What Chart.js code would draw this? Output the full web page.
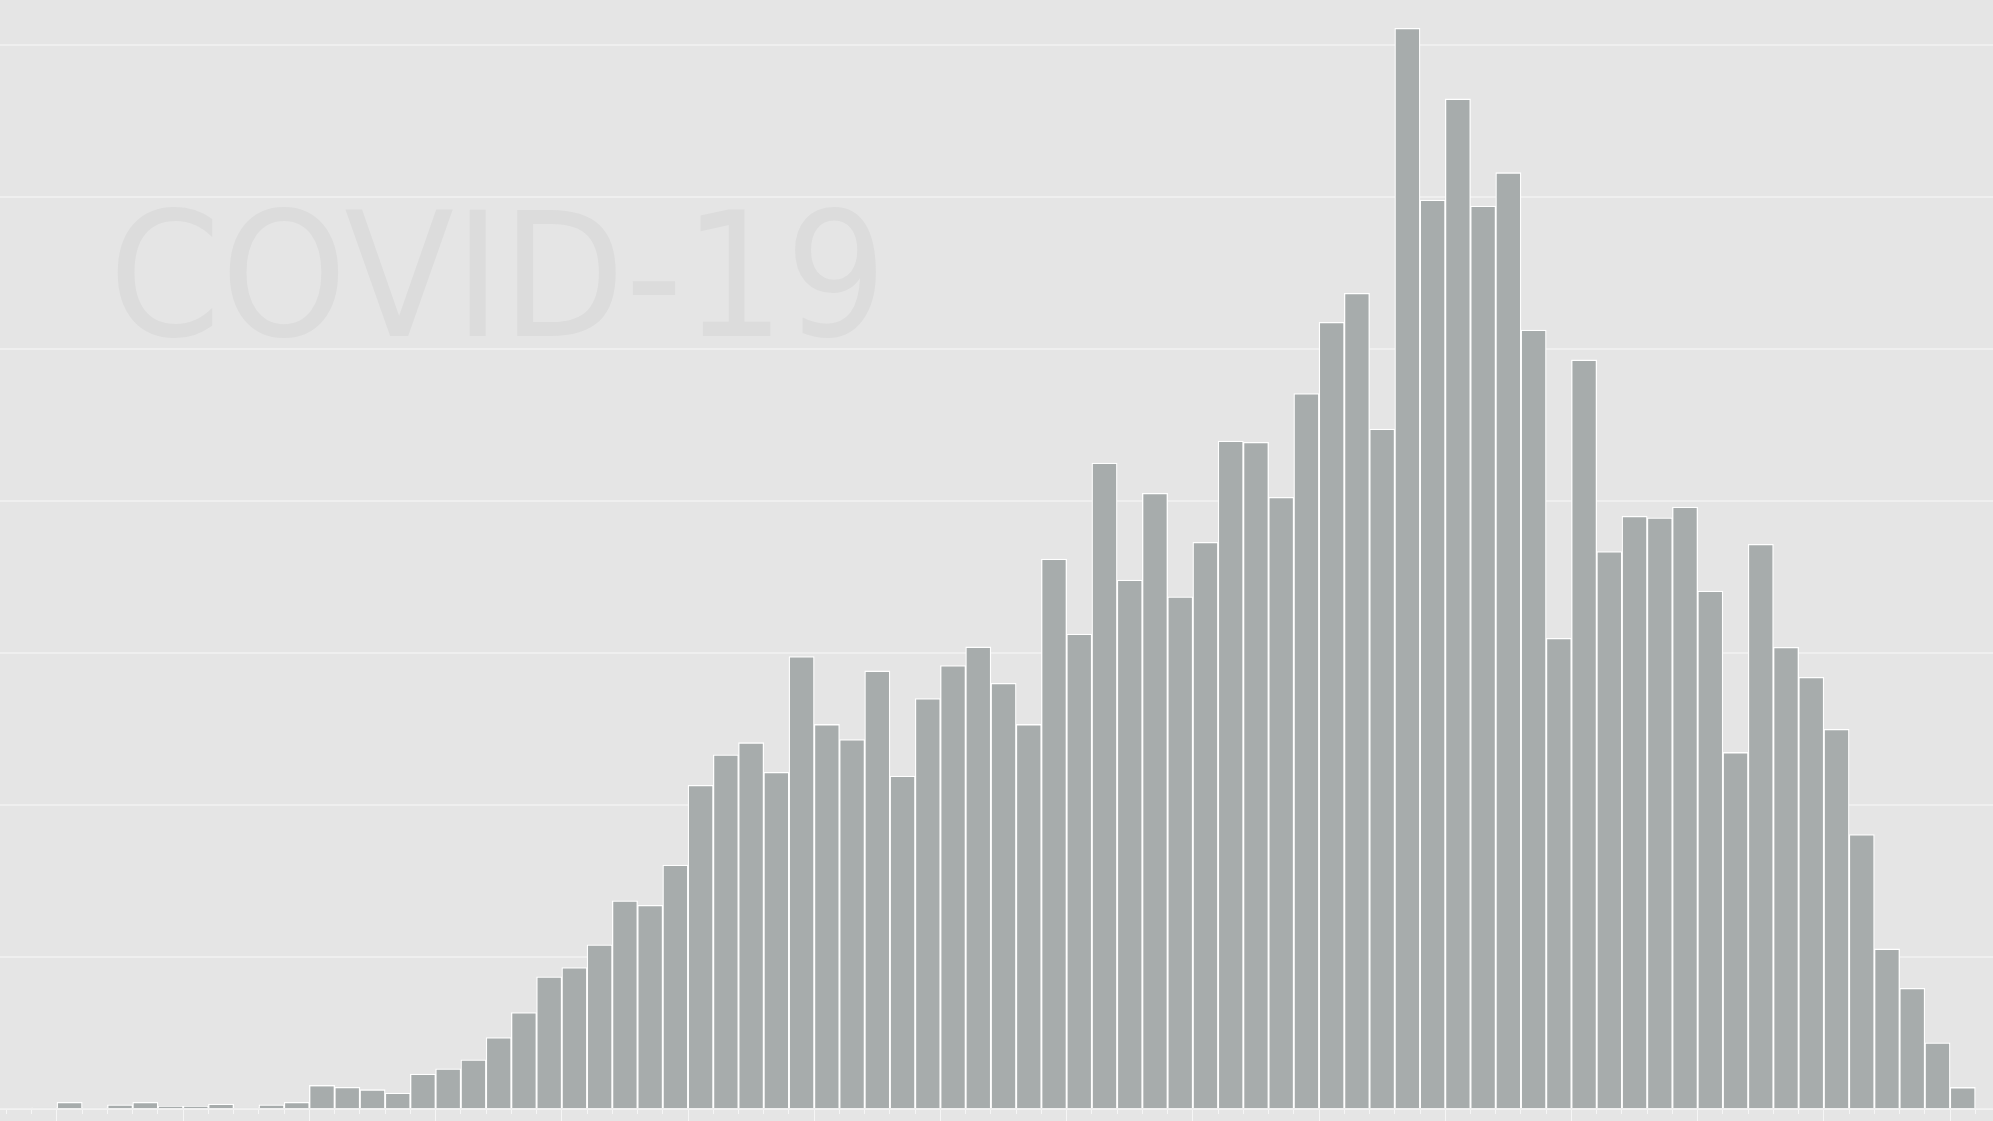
<!DOCTYPE html>
<html>
<head>
<meta charset="utf-8">
<title>COVID-19</title>
<script src="https://cdn.jsdelivr.net/npm/chart.js@4/dist/chart.umd.min.js"></script>
<style>
  html, body { margin: 0; padding: 0; background: #e5e5e5; overflow: hidden; }
  #grafico { display: block; }
</style>
</head>
<body>
<canvas id="grafico" width="1993" height="1121"></canvas>
<script>
// daily counts (one bar per day)
const casos = [
  0.7, 4.4, 0.7, 2.8, 4.4, 1.8, 1.8, 3.3, 0.7, 2.8,
  4.4, 15.5, 14.3, 12.7, 10.5, 23, 26.5, 32.4, 47, 63.5,
  87, 93, 108, 137, 134, 160.5, 213, 233, 241, 221.5,
  297.6, 253, 243, 288.2, 219, 270, 291.7, 304, 280, 253,
  361.8, 312.5, 425, 348, 405, 337, 372.8, 439.5, 438.6, 402.4,
  470.7, 517.5, 536.7, 447.3, 711, 598, 664.5, 594, 616, 512.5,
  309.7, 492.8, 366.7, 390, 389, 396, 340.8, 234.6, 371.5, 303.7,
  284, 249.8, 180.6, 105.3, 79.4, 43.5, 14.2
];
const titulo = 'COVID-19';

// day k occupies the slot [k, k+1] on the x axis
const puntos = casos.map((v, i) => ({ x: i + 1.5, y: v }));

const tituloPlugin = {
  id: 'titulo',
  beforeDatasetsDraw(chart) {
    const ctx = chart.ctx;
    ctx.save();
    ctx.font = '173px "DejaVu Sans"';
    ctx.fillStyle = '#dcdcdc';
    ctx.textBaseline = 'alphabetic';
    const m = ctx.measureText(titulo);
    const ink = m.actualBoundingBoxRight + m.actualBoundingBoxLeft;
    const sx = 759 / ink;
    ctx.translate(117, 336);
    ctx.scale(sx, 1);
    ctx.fillText(titulo, m.actualBoundingBoxLeft, 0);
    ctx.restore();
  }
};

function esMayor(c) {
  return c.tick && (c.tick.value - 2) % 5 === 0;
}

new Chart(document.getElementById('grafico').getContext('2d'), {
  type: 'bar',
  data: {
    datasets: [{
      data: puntos,
      backgroundColor: '#a7acac',
      borderColor: '#ffffff',
      borderWidth: 1.3,
      barPercentage: 1,
      categoryPercentage: 1
    }]
  },
  options: {
    responsive: false,
    animation: false,
    devicePixelRatio: 1,
    layout: { padding: 0 },
    plugins: {
      legend: { display: false },
      tooltip: { enabled: false },
      title: { display: false }
    },
    scales: {
      x: {
        type: 'linear',
        offset: false,
        min: -0.2575,
        max: 78.7,
        afterBuildTicks: s => { s.ticks = s.ticks.filter(t => Number.isInteger(t.value)); },
        ticks: { display: false, stepSize: 1, includeBounds: false },
        grid: {
          offset: false,
          drawOnChartArea: false,
          drawTicks: true,
          tickLength: 12,
          tickColor: '#f6f6f6',
          tickWidth: 1,
          tickBorderDash: c => (c.tick && !esMayor(c) ? [4, 30] : [])
        },
        border: { display: true, color: '#f2f2f2', width: 1, dash: [2, 5] }
      },
      y: {
        min: 0,
        max: 729.6,
        ticks: { display: false, stepSize: 100, includeBounds: false },
        grid: { color: '#efefef', lineWidth: 2, drawTicks: false },
        border: { display: false }
      }
    }
  },
  plugins: [tituloPlugin]
});
</script>
</body>
</html>
